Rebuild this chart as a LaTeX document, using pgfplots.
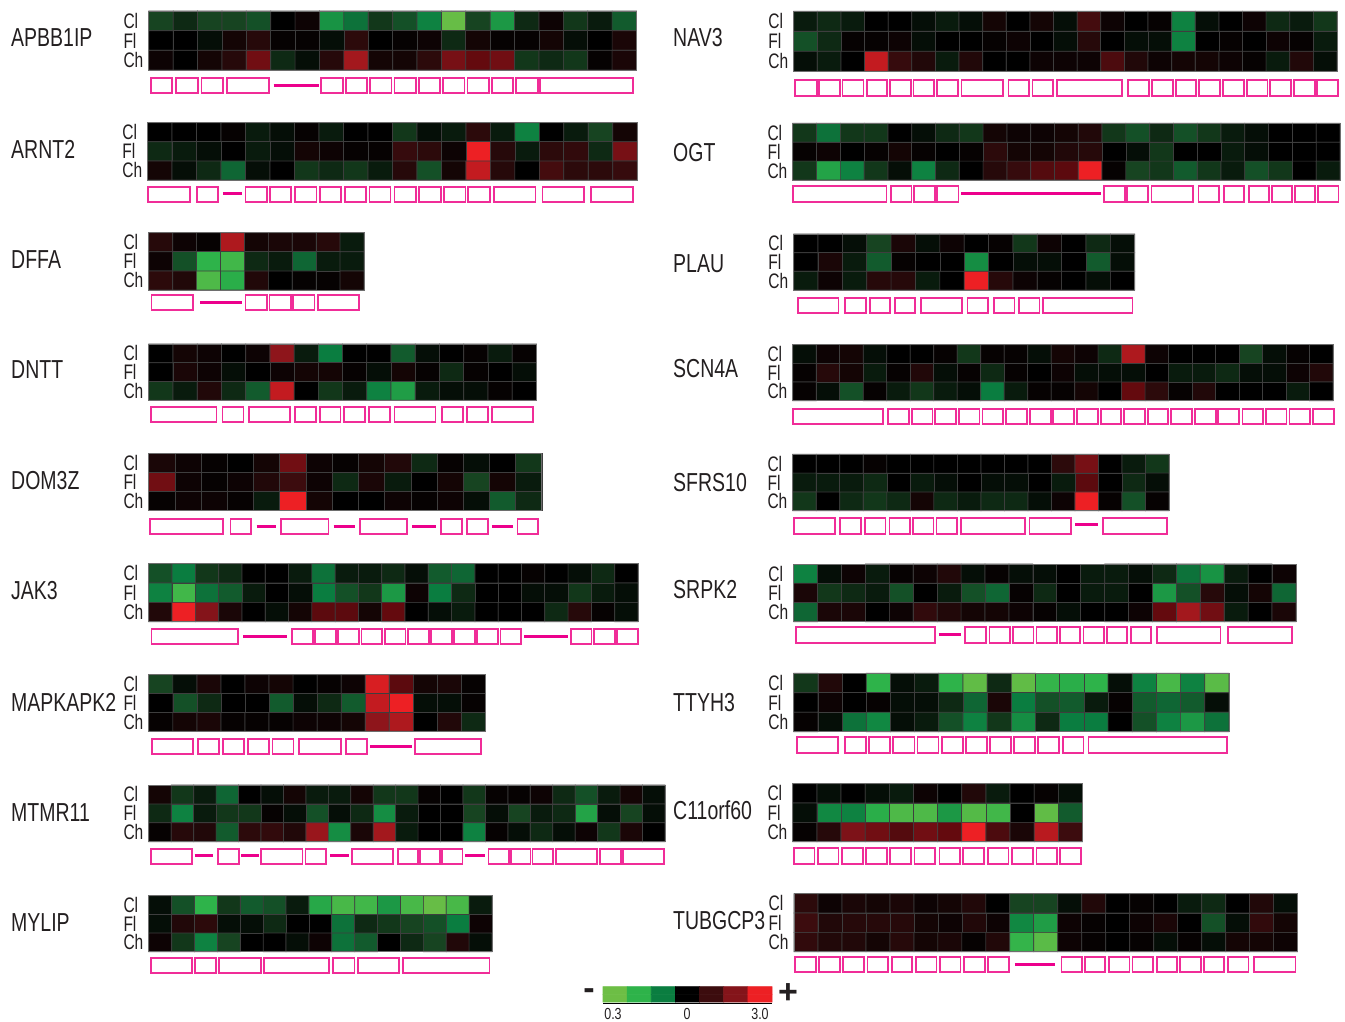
\documentclass[border=0pt]{standalone}
\usepackage{fontspec}
\setmainfont{Liberation Sans}
\usepackage{pgfplots}
\pgfplotsset{compat=1.18}

\definecolor{cellgrid}{RGB}{62,62,62}
\definecolor{panelframe}{RGB}{110,110,110}
\definecolor{exonpink}{RGB}{240,45,152}
\definecolor{intronpink}{RGB}{236,0,140}
\definecolor{labgray}{RGB}{35,31,32}

\pgfplotsset{
  exon/.style={draw=exonpink,line width=1.8pt,line join=miter},
  intron/.style={draw=intronpink,line width=3pt},
}

\def\heatdraw{draw=cellgrid}
% one heat block: x0 x1 ytop ybot cols rows values (row after row, tenths of the scale)
\newcommand\heat[7]{%
  \gdef\hc{}%
  \foreach \v [count=\i from 0] in {#7}{%
    \pgfmathsetmacro\cx{#1+(#2-#1)/#5*(mod(\i,#5)+0.5)}%
    \pgfmathsetmacro\cy{#3+(#4-#3)/#6*(floor(\i/#5)+0.5)}%
    \xdef\hc{\hc (\cx,\cy) [\v]}%
  }%
  \edef\tmp{\noexpand\addplot[matrix plot,mesh/cols=#5,point meta=explicit,\heatdraw,line width=.7pt] coordinates {\hc};}\tmp
}
\newcommand\rowlab[3]{\node[anchor=west,inner sep=0pt,text=labgray] at (axis cs:#1,#2) {\scalebox{.74}[1]{\fontsize{21}{21}\selectfont #3}};}
% gene name, name x, name y, x0 x1 ytop ybot cols values
\newcommand\gene[9]{%
  \heat{#4}{#5}{#6}{#7}{#8}{3}{#9}%
  \addplot[draw=panelframe,line width=1pt] coordinates {(#4,#6)(#5,#6)(#5,#7)(#4,#7)} --cycle;
  \node[anchor=west,inner sep=0pt,text=labgray] at (axis cs:#2,#3) {\scalebox{.75}[1]{\fontsize{26}{26}\selectfont #1}};
  \pgfmathsetmacro\lx{#4-25.5}%
  \pgfmathsetmacro\la{#6+(#7-#6)/6}%
  \pgfmathsetmacro\lb{#6+(#7-#6)/2}%
  \pgfmathsetmacro\lc{#6+(#7-#6)*5/6}%
  \edef\tmp{\noexpand\rowlab{\lx}{\la}{Cl}\noexpand\rowlab{\lx}{\lb}{Fl}\noexpand\rowlab{\lx}{\lc}{Ch}}\tmp
}
\newcommand\exons[3]{\foreach \a/\b in {#3}{%
  \edef\tmp{\noexpand\addplot[exon] coordinates {(\a,#1)(\b,#1)(\b,#2)(\a,#2)} --cycle;}\tmp}}
\newcommand\introns[2]{\foreach \a/\b in {#2}{%
  \edef\tmp{\noexpand\addplot[intron] coordinates {(\a,#1)(\b,#1)};}\tmp}}

\begin{document}
\begin{tikzpicture}
\begin{axis}[
  x=1pt,y=1pt,y dir=reverse,
  xmin=0,xmax=1345,ymin=0,ymax=1021,
  hide axis,clip=false,
  point meta min=-30,point meta max=30,
  colormap={expr}{rgb255=(109,190,69) rgb255=(78,185,72) rgb255=(46,179,74) rgb255=(28,152,69) rgb255=(10,125,64) rgb255=(23,68,33) rgb255=(0,0,0) rgb255=(33,8,9) rgb255=(60,12,14) rgb255=(100,10,14) rgb255=(132,20,26) rgb255=(185,26,31) rgb255=(237,32,36)},
]
\path (axis cs:0,0) rectangle (axis cs:1345,1021);
% left column
\gene{APBB1IP}{11}{38}{148.8}{636.5}{11}{70}{20}{
-5,-3,-5,-5,-6,0,2,-14,-9,-4,-6,-11,-29,-5,-15,-3,2,-4,-2,-7,
0,0,-1,3,6,1,1,-1,7,0,1,2,-3,3,1,1,3,-1,0,4,
2,0,3,6,17,-3,-1,6,23,3,3,7,18,15,17,-4,-3,-4,1,4}
\exons{78.3}{93.3}{150.6/171.9,176.2/197.6,201.5/222.8,227.1/269,321.2/342.6,345.6/367,370/391.4,394.4/415.7,418.7/440.1,443/464.5,467.5/488.9,491.9/513.3,516.2/537.6,540.2/633}
\introns{85.3}{273.7/318.6}

\gene{ARNT2}{11}{149}{147.6}{637.3}{122.7}{180}{20}{
0,0,0,1,-2,-1,1,-2,0,0,-4,-1,-2,7,-2,-11,0,-2,-5,3,
-3,-2,-1,0,-2,-1,3,2,1,1,9,7,2,30,6,-2,7,8,-3,18,
3,-1,-3,-8,-1,0,-4,-3,-4,-2,6,-6,3,26,6,0,11,7,7,9}
\exons{186.7}{201.7}{148/190,196.7/217.7,245.5/267,270/291.3,295/316.5,320/341.3,344.7/365.7,369.5/390.5,394.4/415.7,419/440.6,444/465.4,468.3/489.7,493.6/535.5,542.4/584.3,591/633}
\introns{193.7}{222.8/242}

\gene{DFFA}{11}{260}{148.8}{364}{232.7}{290}{9}{
6,2,1,24,3,4,4,6,-2,
2,-6,-20,-23,-3,-2,-8,-2,-2,
7,5,-25,-19,5,0,1,1,3}
\exons{295.3}{310.3}{151.4/193,245.5/267,269.5/291,293/314.4,317.8/358.9}
\introns{302.7}{200/242}

\gene{DNTT}{11}{370}{148.8}{536.4}{344}{400.3}{16}{
0,3,2,0,2,21,-2,-10,0,0,-7,-1,0,1,-2,1,
0,4,2,-1,0,2,3,3,1,-1,3,1,-3,1,0,-1,
-4,-2,5,-3,-7,26,0,-4,-2,-11,-16,-2,-1,-1,1,0}
\exons{406.7}{421.7}{151/216.4,222.4/243.4,249/290,295/315.6,320/340.5,344.3/365.3,369/389.6,394.4/435.4,442.3/463.2,467/488,491.9/533}

\gene{DOM3Z}{11}{481}{148.8}{541.9}{453.7}{510.7}{15}{
4,2,1,0,3,17,2,1,3,5,-3,1,-1,0,-4,
17,2,1,2,5,10,2,-3,4,-2,0,3,-5,3,-2,
1,2,2,1,-2,30,3,0,0,2,1,2,-1,-7,-3}
\exons{519}{534.3}{149.7/223.3,230.5/251,280.6/328.5,359.7/406.8,441/462,466.6/487.6,517.5/538}
\introns{526.7}{256.6/275.9,333.6/355.4,412.3/435.8,491.9/513.3}

\gene{JAK3}{11}{591}{148.8}{638}{563.7}{621.7}{21}{
-6,-10,-4,-3,0,0,-2,-9,-2,-2,-3,-1,-7,-8,0,0,1,0,-1,-3,0,
-11,-23,-9,-7,-2,0,-1,-10,-6,-4,-15,2,-10,-3,0,0,-1,-1,-4,-2,-1,
5,30,20,4,0,-1,3,14,14,3,15,0,-1,-2,0,0,0,-3,6,1,-1}
\exons{629}{644.3}{151.4/238.2,292/312.7,315.2/335.8,338.3/358.9,361.4/382,385/405.5,408/428.6,431/451.7,454.2/474.8,477.3/497.9,500.4/521,571/591.5,594/614.6,617.2/637.7}
\introns{636}{243/287.4,524/568.4}

\gene{MAPKAPK2}{11}{702}{148.8}{485.5}{674.7}{731.3}{14}{
-5,-1,4,0,2,3,0,1,2,28,14,3,4,1,
0,-6,-3,0,0,-7,-1,-3,-7,26,30,-1,-1,1,
1,3,4,1,1,1,2,2,3,21,24,0,5,-3}
\exons{739}{754.3}{151.8/193.3,198/218.6,222.8/243.8,247.6/268.6,272.5/293.4,299/340.9,345.6/366.6,414.9/481.2}
\introns{746.3}{370/412.3}

\gene{MTMR11}{11}{813}{148.8}{665}{785}{841.7}{23}{
3,-4,-2,-8,0,-1,3,-2,-2,3,-4,-4,1,0,-4,1,1,2,-3,-6,-2,3,-1,
-3,-11,-2,-4,-4,1,-1,-6,-1,-3,-13,-2,0,0,-5,-1,-5,-2,-3,-17,-1,-5,-1,
1,6,5,-7,7,8,5,22,-13,4,23,-2,0,0,-11,1,-1,-3,-1,2,-4,4,0}
\exons{848.7}{864}{151/192,218/238.7,261/302.4,305.4/326.3,351.6/392.6,397.8/417.9,419.6/439.7,441.8/462.4,488.5/509,510.7/530.4,532.5/553,556/596.7,600/620.6,623.2/663.8}
\introns{855.7}{194.6/213,240.8/259.2,329.8/348.6,465.4/484.6}

\gene{MYLIP}{11}{923}{148.8}{492}{895.7}{951.7}{15}{
-1,-6,-20,-4,-7,-6,-2,-18,-24,-23,-15,-24,-29,-24,-2,
-1,5,7,-1,-1,-3,0,0,-9,-3,-4,-5,-6,-10,2,
2,-4,-11,-5,0,0,-1,2,-9,-7,0,-3,-5,5,-1}
\exons{957.7}{973}{150.9/192.2,195.3/216,219.1/261,263.6/329.2,333.3/354.5,357.6/399,402.6/489.4}

% right column
\gene{NAV3}{673}{38}{793.7}{1337}{11.3}{71.3}{23}{
-2,-3,-2,0,0,-1,-2,-1,3,0,3,-1,11,2,0,1,-11,-1,0,2,-3,-2,-4,
-6,-3,1,1,2,-1,0,0,1,2,0,-1,6,0,-1,-1,-11,0,1,0,2,1,-2,
-1,-2,0,26,9,5,-2,5,0,0,2,2,2,12,5,2,3,3,2,1,-2,5,-1}
\exons{80}{95.7}{795/816.6,818.7/839.8,842.4/863.5,866.6/887.2,889.8/911,913.5/934.2,937.2/957.9,961.4/1003.2,1008.4/1029,1032.5/1053.2,1057/1121.7,1128.2/1149.3,1151.9/1172.6,1175.6/1196.3,1199.3/1220,1222.6/1243.7,1246.7/1267.4,1270/1290.7,1293.7/1314.8,1316.6/1337.7}

\gene{OGT}{673}{153}{792.8}{1340}{123.3}{180}{23}{
-4,-9,-4,-4,0,-1,-3,-4,3,2,2,3,5,-4,-6,-3,-6,-4,-2,-1,0,0,0,
1,2,0,1,3,1,0,1,7,3,3,5,6,0,-1,-4,0,0,-2,-1,0,0,0,
-4,-17,-11,-4,-1,-11,-3,0,6,9,13,14,30,1,-5,-4,-7,-4,-2,-6,-4,0,-2}
\exons{186}{201.7}{793.3/886.4,890.7/911.4,913.9/934.7,937.2/958.4,1103.6/1124.7,1127/1148,1151.5/1192.8,1198.4/1219,1223.6/1244.1,1248.6/1269.2,1271.7/1292,1295/1315.2,1317.8/1338.5}
\introns{193.7}{961/1101}

\gene{PLAU}{673}{264}{793.7}{1134.7}{234}{290}{14}{
0,0,-1,-5,4,-1,2,0,1,-4,2,0,-3,-1,
0,4,-2,-7,1,0,0,-13,0,-1,-1,0,-7,-1,
-2,2,-2,6,6,-2,0,30,6,2,1,0,-1,0}
\exons{298}{313.3}{797.6/838.5,844.6/865.7,869.6/890.3,894.6/915.3,920.9/962.2,967.4/988,993.7/1014.4,1018.7/1039.4,1042.8/1132.5}

\gene{SCN4A}{673}{369}{792.8}{1333}{344.7}{400.7}{23}{
-1,2,3,-1,0,0,1,-4,1,1,-1,3,2,-3,24,2,0,0,0,-5,-1,1,0,
1,6,3,-2,1,5,-1,1,-3,1,0,2,-1,-1,-1,0,-2,-2,-3,-1,-1,2,5,
1,-1,-6,1,-2,-4,-2,-1,-10,-2,1,1,3,0,15,7,1,5,0,0,0,-2,0}
\exons{409}{424}{792.8/883,888.1/908.8,911.8/932.5,935/956.2,958.8/979.5,982.5/1003.2,1006.2/1026.9,1029.9/1050.6,1053.2/1073.9,1076.9/1097.6,1100.6/1121.3,1123.9/1145,1147.6/1168.3,1171.3/1192,1195/1215.7,1218.3/1239,1242.4/1262.7,1266.1/1286.4,1289.4/1310,1313.1/1333.8}

\gene{SFRS10}{673}{483}{792.8}{1169}{454.3}{510.7}{16}{
0,0,0,1,0,0,0,0,0,0,0,7,18,0,-2,-4,
-2,-2,-2,-3,0,-2,-1,0,-1,-1,0,-2,14,0,-3,-1,
-4,0,-3,-4,-3,3,-3,-2,-3,-3,-1,2,30,1,-6,1}
\exons{518.3}{533.7}{793.7/834.7,840.3/861,864.8/885.5,889.4/910,913/933.4,936.4/956.6,961/1024.7,1029.5/1070.9,1102.8/1166.6}
\introns{524}{1075.2/1097.6}

\gene{SRPK2}{673}{590}{793.7}{1296}{564}{621.7}{21}{
-11,-1,2,-2,1,2,5,-1,1,-1,-1,0,-2,-2,-1,-3,-9,-14,-2,0,2,
4,-4,-3,-2,-6,0,-2,-6,-8,1,-3,0,-2,-2,0,-15,-6,6,-1,3,-8,
-8,4,4,0,2,8,5,3,3,2,1,-1,0,0,2,15,23,17,-2,0,4}
\exons{627.3}{642.7}{796.3/934.7,965.3/986,989.4/1010,1013/1033.4,1036.4/1057,1060/1080.3,1083.4/1103.6,1107/1127.3,1130.8/1151,1156.6/1220.4,1228.2/1292}
\introns{634.7}{938.5/961}

\gene{TTYH3}{673}{703}{793.7}{1229}{673.3}{731.7}{18}{
-4,5,0,-20,-1,-2,-20,-28,-3,-28,-21,-19,-20,-1,-11,-24,-11,-27,
0,2,0,1,-1,-1,-3,-8,4,-10,-6,-7,-2,1,-7,-8,-7,-1,
1,-1,-9,-12,-1,-2,-6,-11,-4,-13,-3,-10,-10,0,-6,-11,-15,-9}
\exons{737.3}{752.7}{797.2/838,844.6/865.7,869/890.3,893.3/914.4,917.4/938.5,941.6/962.7,965.7/986.8,989.8/1011,1014/1034.7,1038/1058.8,1062.7/1083.4,1088.5/1227.3}

\gene{C11orf60}{673}{810}{792.8}{1082.5}{783.7}{841.7}{12}{
0,-1,0,-1,-2,2,0,5,-2,0,1,-1,
-1,-12,-11,-19,-25,-25,-15,-26,-23,0,-28,-7,
1,6,19,17,13,17,15,30,12,4,25,10}
\exons{848.3}{863.7}{793.7/814.4,817.8/838.5,842/862.7,866/886.8,890.3/911,914.4/935,939.4/959.7,963/983.8,987.7/1008.4,1012.2/1033,1036.4/1057,1060/1080.8}

\gene{TUBGCP3}{673}{921}{794}{1297.6}{893.7}{951.7}{21}{
7,2,4,3,4,2,3,5,0,-5,-5,-1,5,0,1,0,-2,-3,0,5,-1,
10,5,6,6,6,3,2,5,2,-12,-16,2,1,0,2,4,0,-6,-1,8,3,
8,5,5,3,6,3,4,1,5,-21,-27,2,1,0,1,-1,1,-1,3,3,2}
\exons{957}{972.3}{795/815.7,819.1/839.8,843.3/864,867.4/888.1,891.6/912.2,915.7/936.4,939.8/960.5,964/984.7,988.1/1008.8,1061.4/1081.6,1084.7/1105.3,1108.8/1129.5,1132.5/1153.2,1156.6/1177.3,1179.9/1200.6,1203.6/1224.3,1227.8/1248.4,1254/1295.4}
\introns{964.3}{1014.8/1054.9}

% colour key
\def\heatdraw{draw=mapped color}
\heat{603}{772}{986.7}{1002}{7}{2}{-30,-20,-10,0,10,20,30,-30,-20,-10,0,10,20,30}
\addplot[draw=black,line width=1.2pt] coordinates {(603,1003.2)(772,1003.2)};
\node[inner sep=0pt,text=labgray] at (axis cs:613,1014) {\scalebox{.78}[1]{\fontsize{16}{16}\selectfont 0.3}};
\node[inner sep=0pt,text=labgray] at (axis cs:687,1014) {\scalebox{.78}[1]{\fontsize{16}{16}\selectfont 0}};
\node[inner sep=0pt,text=labgray] at (axis cs:760,1014) {\scalebox{.78}[1]{\fontsize{16}{16}\selectfont 3.0}};
\node[inner sep=0pt,text=labgray] at (axis cs:589,994) {\fontsize{34}{34}\selectfont\bfseries -};
\node[inner sep=0pt,text=labgray] at (axis cs:788,994) {\fontsize{34}{34}\selectfont\bfseries +};
\end{axis}
\end{tikzpicture}
\end{document}
